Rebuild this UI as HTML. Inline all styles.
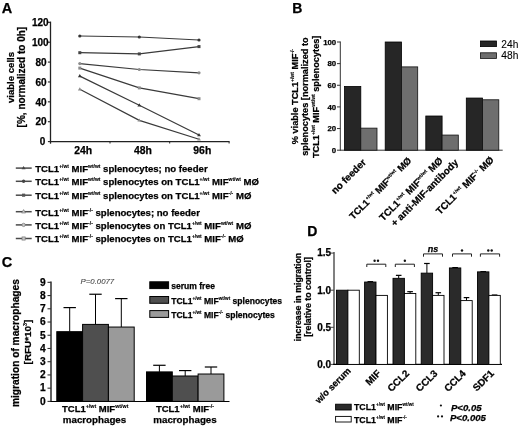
<!DOCTYPE html>
<html><head><meta charset="utf-8"><style>
html,body{margin:0;padding:0;background:#fff;}
svg{display:block;will-change:transform;}
text{font-family:"Liberation Sans",sans-serif;}
</style></head><body>
<svg width="520" height="426" viewBox="0 0 520 426">
<rect width="520" height="426" fill="#fff"/>
<text x="1.8" y="12.6" font-size="14.5" font-weight="bold" text-anchor="start" fill="#000" stroke="#000" stroke-width="0.25">A</text>
<line x1="50.5" y1="21.6" x2="50.5" y2="143.7" stroke="#222" stroke-width="1.3"/>
<line x1="47.9" y1="141.6" x2="50.5" y2="141.6" stroke="#222" stroke-width="1.1"/>
<text x="45.3" y="145.29999999999998" font-size="10" font-weight="bold" text-anchor="end" fill="#000" stroke="#000" stroke-width="0.25">0</text>
<line x1="47.9" y1="121.72" x2="50.5" y2="121.72" stroke="#222" stroke-width="1.1"/>
<text x="46.5" y="125.42" font-size="10" font-weight="bold" text-anchor="end" fill="#000" stroke="#000" stroke-width="0.25">20</text>
<line x1="47.9" y1="101.84" x2="50.5" y2="101.84" stroke="#222" stroke-width="1.1"/>
<text x="46.5" y="105.54" font-size="10" font-weight="bold" text-anchor="end" fill="#000" stroke="#000" stroke-width="0.25">40</text>
<line x1="47.9" y1="81.96" x2="50.5" y2="81.96" stroke="#222" stroke-width="1.1"/>
<text x="46.5" y="85.66" font-size="10" font-weight="bold" text-anchor="end" fill="#000" stroke="#000" stroke-width="0.25">60</text>
<line x1="47.9" y1="62.08" x2="50.5" y2="62.08" stroke="#222" stroke-width="1.1"/>
<text x="46.5" y="65.78" font-size="10" font-weight="bold" text-anchor="end" fill="#000" stroke="#000" stroke-width="0.25">80</text>
<line x1="47.9" y1="42.19999999999999" x2="50.5" y2="42.19999999999999" stroke="#222" stroke-width="1.1"/>
<text x="48.7" y="45.89999999999999" font-size="10" font-weight="bold" text-anchor="end" fill="#000" stroke="#000" stroke-width="0.25">100</text>
<line x1="47.9" y1="22.319999999999993" x2="50.5" y2="22.319999999999993" stroke="#222" stroke-width="1.1"/>
<text x="48.7" y="26.019999999999992" font-size="10" font-weight="bold" text-anchor="end" fill="#000" stroke="#000" stroke-width="0.25">120</text>
<line x1="50" y1="141.6" x2="229.6" y2="141.6" stroke="#222" stroke-width="1.3"/>
<line x1="110" y1="141.6" x2="110" y2="143.5" stroke="#222" stroke-width="1"/>
<line x1="169.7" y1="141.6" x2="169.7" y2="143.5" stroke="#222" stroke-width="1"/>
<line x1="229.1" y1="141.6" x2="229.1" y2="143.5" stroke="#222" stroke-width="1"/>
<text x="83.2" y="154.3" font-size="10.4" font-weight="bold" text-anchor="middle" fill="#000" stroke="#000" stroke-width="0.25">24h</text>
<text x="143" y="154.3" font-size="10.4" font-weight="bold" text-anchor="middle" fill="#000" stroke="#000" stroke-width="0.25">48h</text>
<text x="202.3" y="154.3" font-size="10.4" font-weight="bold" text-anchor="middle" fill="#000" stroke="#000" stroke-width="0.25">96h</text>
<text x="14.2" y="77.5" font-size="9.6" font-weight="bold" text-anchor="middle" fill="#000" stroke="#000" stroke-width="0.25" transform="rotate(-90 14.2 77.5)">viable cells</text>
<text x="24.9" y="77.1" font-size="10" font-weight="bold" text-anchor="middle" fill="#000" stroke="#000" stroke-width="0.25" transform="rotate(-90 24.9 77.1)">[%, normalized to 0h]</text>
<polyline points="79.8,36 139.3,37 199,40" fill="none" stroke="#3a3a3a" stroke-width="1.2"/>
<circle cx="79.8" cy="36" r="1.6" fill="#333"/>
<circle cx="139.3" cy="37" r="1.6" fill="#333"/>
<circle cx="199" cy="40" r="1.6" fill="#333"/>
<polyline points="79.8,52.7 139.3,53.9 199,46.6" fill="none" stroke="#3a3a3a" stroke-width="1.2"/>
<rect x="78.3" y="51.2" width="3.0" height="3.0" fill="#444"/>
<rect x="137.8" y="52.4" width="3.0" height="3.0" fill="#444"/>
<rect x="197.5" y="45.1" width="3.0" height="3.0" fill="#444"/>
<polyline points="79.8,63.6 139.3,69.5 199,72.8" fill="none" stroke="#3a3a3a" stroke-width="1.2"/>
<circle cx="79.8" cy="63.6" r="1.6" fill="#8c8c8c"/>
<circle cx="139.3" cy="69.5" r="1.6" fill="#8c8c8c"/>
<circle cx="199" cy="72.8" r="1.6" fill="#8c8c8c"/>
<polyline points="79.8,68.1 139.3,87.9 199,98.7" fill="none" stroke="#3a3a3a" stroke-width="1.2"/>
<rect x="78.3" y="66.6" width="3.0" height="3.0" fill="#8c8c8c"/>
<rect x="137.8" y="86.4" width="3.0" height="3.0" fill="#8c8c8c"/>
<rect x="197.5" y="97.2" width="3.0" height="3.0" fill="#8c8c8c"/>
<polyline points="79.8,76.1 139.3,105.2 199,135" fill="none" stroke="#3a3a3a" stroke-width="1.2"/>
<path d="M77.89999999999999,77.3 L81.7,77.3 L79.8,74.1 Z" fill="#333"/>
<path d="M137.4,106.4 L141.20000000000002,106.4 L139.3,103.2 Z" fill="#333"/>
<path d="M197.1,136.2 L200.9,136.2 L199,133.0 Z" fill="#333"/>
<polyline points="79.8,89.2 139.3,120.4 199,139.2" fill="none" stroke="#3a3a3a" stroke-width="1.2"/>
<path d="M77.89999999999999,90.4 L81.7,90.4 L79.8,87.2 Z" fill="#8c8c8c"/>
<path d="M137.4,121.60000000000001 L141.20000000000002,121.60000000000001 L139.3,118.4 Z" fill="#8c8c8c"/>
<path d="M197.1,140.39999999999998 L200.9,140.39999999999998 L199,137.2 Z" fill="#8c8c8c"/>
<line x1="15.8" y1="168.1" x2="31.7" y2="168.1" stroke="#4a4a4a" stroke-width="1.5"/>
<path d="M21.605,169.35999999999999 L25.595000000000002,169.35999999999999 L23.6,166.0 Z" fill="#444"/>
<text x="35.2" y="171.9" font-size="9.6" font-weight="bold" text-anchor="start" fill="#000" stroke="#000" stroke-width="0.25">TCL1<tspan font-size="4.95" stroke-width="0.12" dy="-4.0">+/wt</tspan><tspan dy="4.0"> MIF</tspan><tspan font-size="4.95" stroke-width="0.12" dy="-4.0">wt/wt</tspan><tspan dy="4.0"> splenocytes; no feeder</tspan></text>
<line x1="15.8" y1="181.3" x2="31.7" y2="181.3" stroke="#4a4a4a" stroke-width="1.5"/>
<circle cx="23.6" cy="181.3" r="1.6800000000000002" fill="#444"/>
<text x="35.2" y="185.10000000000002" font-size="9.6" font-weight="bold" text-anchor="start" fill="#000" stroke="#000" stroke-width="0.25">TCL1<tspan font-size="4.95" stroke-width="0.12" dy="-4.0">+/wt</tspan><tspan dy="4.0"> MIF</tspan><tspan font-size="4.95" stroke-width="0.12" dy="-4.0">wt/wt</tspan><tspan dy="4.0"> splenocytes on TCL1</tspan><tspan font-size="4.95" stroke-width="0.12" dy="-4.0">+/wt</tspan><tspan dy="4.0"> MIF</tspan><tspan font-size="4.95" stroke-width="0.12" dy="-4.0">wt/wt</tspan><tspan dy="4.0"> MØ</tspan></text>
<line x1="15.8" y1="195.2" x2="31.7" y2="195.2" stroke="#4a4a4a" stroke-width="1.5"/>
<rect x="22.025000000000002" y="193.625" width="3.1500000000000004" height="3.1500000000000004" fill="#555"/>
<text x="35.2" y="199.0" font-size="9.6" font-weight="bold" text-anchor="start" fill="#000" stroke="#000" stroke-width="0.25">TCL1<tspan font-size="4.95" stroke-width="0.12" dy="-4.0">+/wt</tspan><tspan dy="4.0"> MIF</tspan><tspan font-size="4.95" stroke-width="0.12" dy="-4.0">wt/wt</tspan><tspan dy="4.0"> splenocytes on TCL1</tspan><tspan font-size="4.95" stroke-width="0.12" dy="-4.0">+/wt</tspan><tspan dy="4.0"> MIF</tspan><tspan font-size="4.95" stroke-width="0.12" dy="-4.0">-/-</tspan><tspan dy="4.0"> MØ</tspan></text>
<line x1="15.8" y1="211.7" x2="31.7" y2="211.7" stroke="#4a4a4a" stroke-width="1.5"/>
<path d="M21.605,212.95999999999998 L25.595000000000002,212.95999999999998 L23.6,209.6 Z" fill="#c8c8c8" stroke="#777" stroke-width="0.7"/>
<text x="35.2" y="215.5" font-size="9.6" font-weight="bold" text-anchor="start" fill="#000" stroke="#000" stroke-width="0.25">TCL1<tspan font-size="4.95" stroke-width="0.12" dy="-4.0">+/wt</tspan><tspan dy="4.0"> MIF</tspan><tspan font-size="4.95" stroke-width="0.12" dy="-4.0">-/-</tspan><tspan dy="4.0"> splenocytes; no feeder</tspan></text>
<line x1="15.8" y1="224.9" x2="31.7" y2="224.9" stroke="#4a4a4a" stroke-width="1.5"/>
<circle cx="23.6" cy="224.9" r="1.6800000000000002" fill="#c8c8c8" stroke="#777" stroke-width="0.7"/>
<text x="35.2" y="228.70000000000002" font-size="9.6" font-weight="bold" text-anchor="start" fill="#000" stroke="#000" stroke-width="0.25">TCL1<tspan font-size="4.95" stroke-width="0.12" dy="-4.0">+/wt</tspan><tspan dy="4.0"> MIF</tspan><tspan font-size="4.95" stroke-width="0.12" dy="-4.0">-/-</tspan><tspan dy="4.0"> splenocytes on TCL1</tspan><tspan font-size="4.95" stroke-width="0.12" dy="-4.0">+/wt</tspan><tspan dy="4.0"> MIF</tspan><tspan font-size="4.95" stroke-width="0.12" dy="-4.0">wt/wt</tspan><tspan dy="4.0"> MØ</tspan></text>
<line x1="15.8" y1="238.5" x2="31.7" y2="238.5" stroke="#4a4a4a" stroke-width="1.5"/>
<rect x="22.025000000000002" y="236.925" width="3.1500000000000004" height="3.1500000000000004" fill="#c8c8c8" stroke="#777" stroke-width="0.7"/>
<text x="35.2" y="242.3" font-size="9.6" font-weight="bold" text-anchor="start" fill="#000" stroke="#000" stroke-width="0.25">TCL1<tspan font-size="4.95" stroke-width="0.12" dy="-4.0">+/wt</tspan><tspan dy="4.0"> MIF</tspan><tspan font-size="4.95" stroke-width="0.12" dy="-4.0">-/-</tspan><tspan dy="4.0"> splenocytes on TCL1</tspan><tspan font-size="4.95" stroke-width="0.12" dy="-4.0">+/wt</tspan><tspan dy="4.0"> MIF</tspan><tspan font-size="4.95" stroke-width="0.12" dy="-4.0">-/-</tspan><tspan dy="4.0"> MØ</tspan></text>
<text x="292.2" y="12.5" font-size="14" font-weight="bold" text-anchor="start" fill="#000" stroke="#000" stroke-width="0.25">B</text>
<line x1="340.3" y1="41.5" x2="340.3" y2="150.6" stroke="#333" stroke-width="1"/>
<line x1="337" y1="150.2" x2="340.3" y2="150.2" stroke="#333" stroke-width="1"/>
<text x="336.2" y="153.0" font-size="7.8" font-weight="bold" text-anchor="end" fill="#000" stroke="#000" stroke-width="0.25">0</text>
<line x1="337" y1="128.56" x2="340.3" y2="128.56" stroke="#333" stroke-width="1"/>
<text x="336.2" y="131.36" font-size="7.8" font-weight="bold" text-anchor="end" fill="#000" stroke="#000" stroke-width="0.25">20</text>
<line x1="337" y1="106.91999999999999" x2="340.3" y2="106.91999999999999" stroke="#333" stroke-width="1"/>
<text x="336.2" y="109.71999999999998" font-size="7.8" font-weight="bold" text-anchor="end" fill="#000" stroke="#000" stroke-width="0.25">40</text>
<line x1="337" y1="85.27999999999999" x2="340.3" y2="85.27999999999999" stroke="#333" stroke-width="1"/>
<text x="336.2" y="88.07999999999998" font-size="7.8" font-weight="bold" text-anchor="end" fill="#000" stroke="#000" stroke-width="0.25">60</text>
<line x1="337" y1="63.639999999999986" x2="340.3" y2="63.639999999999986" stroke="#333" stroke-width="1"/>
<text x="336.2" y="66.43999999999998" font-size="7.8" font-weight="bold" text-anchor="end" fill="#000" stroke="#000" stroke-width="0.25">80</text>
<line x1="337" y1="41.999999999999986" x2="340.3" y2="41.999999999999986" stroke="#333" stroke-width="1"/>
<text x="336.2" y="44.79999999999998" font-size="7.8" font-weight="bold" text-anchor="end" fill="#000" stroke="#000" stroke-width="0.25">100</text>
<line x1="340" y1="150.2" x2="502.7" y2="150.2" stroke="#333" stroke-width="1"/>
<rect x="344.5" y="86.47019999999998" width="16.3" height="63.72980000000001" fill="#262626" stroke="#000" stroke-width="0.8"/>
<rect x="360.8" y="128.1272" width="16.2" height="22.0728" fill="#6e6e6e" stroke="#111" stroke-width="0.8"/>
<rect x="385.2" y="41.999999999999986" width="16.3" height="108.2" fill="#262626" stroke="#000" stroke-width="0.8"/>
<rect x="401.5" y="66.88599999999998" width="16.2" height="83.31400000000001" fill="#6e6e6e" stroke="#111" stroke-width="0.8"/>
<rect x="425.8" y="116.00879999999998" width="16.3" height="34.19120000000001" fill="#262626" stroke="#000" stroke-width="0.8"/>
<rect x="442.1" y="135.052" width="16.2" height="15.147999999999996" fill="#6e6e6e" stroke="#111" stroke-width="0.8"/>
<rect x="466.3" y="98.04759999999999" width="16.3" height="52.1524" fill="#262626" stroke="#000" stroke-width="0.8"/>
<rect x="482.6" y="99.77879999999999" width="16.2" height="50.4212" fill="#6e6e6e" stroke="#111" stroke-width="0.8"/>
<rect x="480.5" y="41" width="16" height="5.6" fill="#262626" stroke="#000" stroke-width="0.8"/>
<rect x="480.5" y="52.8" width="16" height="5.6" fill="#6e6e6e" stroke="#111" stroke-width="0.8"/>
<text x="501.3" y="47.6" font-size="10.2" font-weight="normal" text-anchor="start" fill="#000" stroke="#000" stroke-width="0.08">24h</text>
<text x="501.3" y="59.2" font-size="10.2" font-weight="normal" text-anchor="start" fill="#000" stroke="#000" stroke-width="0.08">48h</text>
<text x="297.8" y="96.6" font-size="9.2" font-weight="bold" text-anchor="middle" fill="#000" stroke="#000" stroke-width="0.25" transform="rotate(-90 297.8 96.6)">% viable TCL1<tspan font-size="5" stroke-width="0.12" dy="-3.8">+/wt</tspan><tspan dy="3.8"> MIF</tspan><tspan font-size="5" stroke-width="0.12" dy="-3.8">-/-</tspan></text>
<text x="308.2" y="96.6" font-size="9.2" font-weight="bold" text-anchor="middle" fill="#000" stroke="#000" stroke-width="0.25" transform="rotate(-90 308.2 96.6)">splenocytes [normalized to</text>
<text x="318.7" y="96.8" font-size="9.2" font-weight="bold" text-anchor="middle" fill="#000" stroke="#000" stroke-width="0.25" transform="rotate(-90 318.7 96.8)">TCL1<tspan font-size="5" stroke-width="0.12" dy="-3.8">+/wt</tspan><tspan dy="3.8"> MIF</tspan><tspan font-size="5" stroke-width="0.12" dy="-3.8">wt/wt</tspan><tspan dy="3.8"> splenocytes]</tspan></text>
<text x="366.7" y="163" font-size="9.9" font-weight="bold" text-anchor="end" fill="#000" stroke="#000" stroke-width="0.25" transform="rotate(-45 366.7 163)">no feeder</text>
<text x="412" y="161.2" font-size="9.5" font-weight="bold" text-anchor="end" fill="#000" stroke="#000" stroke-width="0.25" transform="rotate(-45 412 161.2)">TCL1<tspan font-size="5" stroke-width="0.12" dy="-4">+/wt</tspan><tspan dy="4"> MIF</tspan><tspan font-size="5" stroke-width="0.12" dy="-4">wt/wt</tspan><tspan dy="4"> MØ</tspan></text>
<text x="443.3" y="161.3" font-size="9.8" font-weight="bold" text-anchor="end" fill="#000" stroke="#000" stroke-width="0.25" transform="rotate(-45 443.3 161.3)">TCL1<tspan font-size="5" stroke-width="0.12" dy="-4">+/wt</tspan><tspan dy="4"> MIF</tspan><tspan font-size="5" stroke-width="0.12" dy="-4">wt/wt</tspan><tspan dy="4"> MØ</tspan></text>
<text x="458.8" y="163.2" font-size="9.8" font-weight="bold" text-anchor="end" fill="#000" stroke="#000" stroke-width="0.25" transform="rotate(-45 458.8 163.2)">+ anti-MIF-antibody</text>
<text x="494.5" y="160.5" font-size="9.8" font-weight="bold" text-anchor="end" fill="#000" stroke="#000" stroke-width="0.25" transform="rotate(-45 494.5 160.5)">TCL1<tspan font-size="5" stroke-width="0.12" dy="-4">+/wt</tspan><tspan dy="4"> MIF</tspan><tspan font-size="5" stroke-width="0.12" dy="-4">-/-</tspan><tspan dy="4"> MØ</tspan></text>
<text x="1.8" y="267.2" font-size="14.5" font-weight="bold" text-anchor="start" fill="#000" stroke="#000" stroke-width="0.25">C</text>
<line x1="51" y1="281.6" x2="51" y2="402" stroke="#3a3a3a" stroke-width="1.6"/>
<line x1="47.5" y1="401.4" x2="51" y2="401.4" stroke="#333" stroke-width="1.1"/>
<text x="45.6" y="404.7" font-size="10.2" font-weight="bold" text-anchor="end" fill="#000" stroke="#000" stroke-width="0.25">0</text>
<line x1="47.5" y1="388.16999999999996" x2="51" y2="388.16999999999996" stroke="#333" stroke-width="1.1"/>
<text x="45.6" y="391.46999999999997" font-size="10.2" font-weight="bold" text-anchor="end" fill="#000" stroke="#000" stroke-width="0.25">1</text>
<line x1="47.5" y1="374.94" x2="51" y2="374.94" stroke="#333" stroke-width="1.1"/>
<text x="45.6" y="378.24" font-size="10.2" font-weight="bold" text-anchor="end" fill="#000" stroke="#000" stroke-width="0.25">2</text>
<line x1="47.5" y1="361.71" x2="51" y2="361.71" stroke="#333" stroke-width="1.1"/>
<text x="45.6" y="365.01" font-size="10.2" font-weight="bold" text-anchor="end" fill="#000" stroke="#000" stroke-width="0.25">3</text>
<line x1="47.5" y1="348.47999999999996" x2="51" y2="348.47999999999996" stroke="#333" stroke-width="1.1"/>
<text x="45.6" y="351.78" font-size="10.2" font-weight="bold" text-anchor="end" fill="#000" stroke="#000" stroke-width="0.25">4</text>
<line x1="47.5" y1="335.25" x2="51" y2="335.25" stroke="#333" stroke-width="1.1"/>
<text x="45.6" y="338.55" font-size="10.2" font-weight="bold" text-anchor="end" fill="#000" stroke="#000" stroke-width="0.25">5</text>
<line x1="47.5" y1="322.02" x2="51" y2="322.02" stroke="#333" stroke-width="1.1"/>
<text x="45.6" y="325.32" font-size="10.2" font-weight="bold" text-anchor="end" fill="#000" stroke="#000" stroke-width="0.25">6</text>
<line x1="47.5" y1="308.78999999999996" x2="51" y2="308.78999999999996" stroke="#333" stroke-width="1.1"/>
<text x="45.6" y="312.09" font-size="10.2" font-weight="bold" text-anchor="end" fill="#000" stroke="#000" stroke-width="0.25">7</text>
<line x1="47.5" y1="295.55999999999995" x2="51" y2="295.55999999999995" stroke="#333" stroke-width="1.1"/>
<text x="45.6" y="298.85999999999996" font-size="10.2" font-weight="bold" text-anchor="end" fill="#000" stroke="#000" stroke-width="0.25">8</text>
<line x1="47.5" y1="282.33" x2="51" y2="282.33" stroke="#333" stroke-width="1.1"/>
<text x="45.6" y="285.63" font-size="10.2" font-weight="bold" text-anchor="end" fill="#000" stroke="#000" stroke-width="0.25">9</text>
<line x1="50.5" y1="401.5" x2="229.5" y2="401.5" stroke="#000" stroke-width="1.2"/>
<line x1="69.7" y1="307.59929999999997" x2="69.7" y2="331.67789999999997" stroke="#000" stroke-width="1"/>
<line x1="63.5" y1="307.59929999999997" x2="75.9" y2="307.59929999999997" stroke="#000" stroke-width="1.2"/>
<rect x="56.8" y="331.67789999999997" width="25.8" height="69.72210000000001" fill="#000" stroke="#000" stroke-width="1"/>
<line x1="95.5" y1="294.23699999999997" x2="95.5" y2="324.40139999999997" stroke="#000" stroke-width="1"/>
<line x1="89.3" y1="294.23699999999997" x2="101.7" y2="294.23699999999997" stroke="#000" stroke-width="1.2"/>
<rect x="82.6" y="324.40139999999997" width="25.8" height="76.99860000000001" fill="#4f4f4f" stroke="#000" stroke-width="1"/>
<line x1="121.30000000000001" y1="298.6029" x2="121.30000000000001" y2="327.0474" stroke="#000" stroke-width="1"/>
<line x1="115.10000000000001" y1="298.6029" x2="127.50000000000001" y2="298.6029" stroke="#000" stroke-width="1.2"/>
<rect x="108.4" y="327.0474" width="25.8" height="74.3526" fill="#9a9a9a" stroke="#000" stroke-width="1"/>
<line x1="159.4" y1="365.28209999999996" x2="159.4" y2="371.89709999999997" stroke="#000" stroke-width="1"/>
<line x1="153.20000000000002" y1="365.28209999999996" x2="165.6" y2="365.28209999999996" stroke="#000" stroke-width="1.2"/>
<rect x="146.5" y="371.89709999999997" width="25.8" height="29.50290000000001" fill="#000" stroke="#000" stroke-width="1"/>
<line x1="185.20000000000002" y1="370.5741" x2="185.20000000000002" y2="375.9984" stroke="#000" stroke-width="1"/>
<line x1="179.00000000000003" y1="370.5741" x2="191.4" y2="370.5741" stroke="#000" stroke-width="1.2"/>
<rect x="172.3" y="375.9984" width="25.8" height="25.401599999999974" fill="#4f4f4f" stroke="#000" stroke-width="1"/>
<line x1="211.0" y1="367.00199999999995" x2="211.0" y2="374.0139" stroke="#000" stroke-width="1"/>
<line x1="204.8" y1="367.00199999999995" x2="217.2" y2="367.00199999999995" stroke="#000" stroke-width="1.2"/>
<rect x="198.1" y="374.0139" width="25.8" height="27.3861" fill="#9a9a9a" stroke="#000" stroke-width="1"/>
<text x="97.4" y="283.7" font-size="7.8" font-weight="normal" text-anchor="middle" fill="#444" stroke="#444" stroke-width="0.08" font-style="italic">P=0.0077</text>
<rect x="149.8" y="281.8" width="18.8" height="6.8" fill="#000" stroke="#000" stroke-width="1"/>
<text x="171.2" y="288.8" font-size="8.55" font-weight="bold" text-anchor="start" fill="#000" stroke="#000" stroke-width="0.25">serum free</text>
<rect x="149.8" y="296.5" width="18.8" height="6.8" fill="#4f4f4f" stroke="#000" stroke-width="1"/>
<text x="171.2" y="303.5" font-size="8.55" font-weight="bold" text-anchor="start" fill="#000" stroke="#000" stroke-width="0.25">TCL1<tspan font-size="4.6" stroke-width="0.12" dy="-3.6">+/wt</tspan><tspan dy="3.6"> MIF</tspan><tspan font-size="4.6" stroke-width="0.12" dy="-3.6">wt/wt</tspan><tspan dy="3.6"> splenocytes</tspan></text>
<rect x="149.8" y="310.6" width="18.8" height="6.8" fill="#9a9a9a" stroke="#000" stroke-width="1"/>
<text x="171.2" y="317.6" font-size="8.55" font-weight="bold" text-anchor="start" fill="#000" stroke="#000" stroke-width="0.25">TCL1<tspan font-size="4.6" stroke-width="0.12" dy="-3.6">+/wt</tspan><tspan dy="3.6"> MIF</tspan><tspan font-size="4.6" stroke-width="0.12" dy="-3.6">-/-</tspan><tspan dy="3.6"> splenocytes</tspan></text>
<text x="18.9" y="343.1" font-size="10.2" font-weight="bold" text-anchor="middle" fill="#000" stroke="#000" stroke-width="0.25" transform="rotate(-90 18.9 343.1)">migration of macrophages</text>
<text x="30.6" y="342" font-size="9.9" font-weight="bold" text-anchor="middle" fill="#000" stroke="#000" stroke-width="0.25" transform="rotate(-90 30.6 342)">[RFU*10<tspan font-size="5.5" stroke-width="0.12" dy="-4">3</tspan><tspan dy="4">]</tspan></text>
<text x="95.2" y="412.3" font-size="9.5" font-weight="bold" text-anchor="middle" fill="#000" stroke="#000" stroke-width="0.25">TCL1<tspan font-size="5.3" stroke-width="0.12" dy="-4">+/wt</tspan><tspan dy="4"> MIF</tspan><tspan font-size="5.3" stroke-width="0.12" dy="-4">wt/wt</tspan></text>
<text x="94.5" y="422.6" font-size="9.75" font-weight="bold" text-anchor="middle" fill="#000" stroke="#000" stroke-width="0.25">macrophages</text>
<text x="185" y="412.3" font-size="9.5" font-weight="bold" text-anchor="middle" fill="#000" stroke="#000" stroke-width="0.25">TCL1<tspan font-size="5.3" stroke-width="0.12" dy="-4">+/wt</tspan><tspan dy="4"> MIF</tspan><tspan font-size="5.3" stroke-width="0.12" dy="-4">-/-</tspan></text>
<text x="185" y="422.6" font-size="9.75" font-weight="bold" text-anchor="middle" fill="#000" stroke="#000" stroke-width="0.25">macrophages</text>
<text x="307.2" y="235.9" font-size="14" font-weight="bold" text-anchor="start" fill="#000" stroke="#000" stroke-width="0.25">D</text>
<line x1="334" y1="252" x2="334" y2="364.8" stroke="#6a6a6a" stroke-width="1.7"/>
<line x1="330.5" y1="364.4" x2="334" y2="364.4" stroke="#444" stroke-width="1"/>
<text x="331.1" y="367.7" font-size="10" font-weight="bold" text-anchor="end" fill="#000" stroke="#000" stroke-width="0.25">0.0</text>
<line x1="330.5" y1="327.29999999999995" x2="334" y2="327.29999999999995" stroke="#444" stroke-width="1"/>
<text x="331.1" y="330.59999999999997" font-size="10" font-weight="bold" text-anchor="end" fill="#000" stroke="#000" stroke-width="0.25">0.5</text>
<line x1="330.5" y1="290.2" x2="334" y2="290.2" stroke="#444" stroke-width="1"/>
<text x="331.1" y="293.5" font-size="10" font-weight="bold" text-anchor="end" fill="#000" stroke="#000" stroke-width="0.25">1.0</text>
<line x1="330.5" y1="253.09999999999997" x2="334" y2="253.09999999999997" stroke="#444" stroke-width="1"/>
<text x="331.1" y="256.4" font-size="10" font-weight="bold" text-anchor="end" fill="#000" stroke="#000" stroke-width="0.25">1.5</text>
<line x1="333.2" y1="364.4" x2="502" y2="364.4" stroke="#000" stroke-width="1.2"/>
<rect x="336.5" y="290.2" width="11.4" height="74.19999999999999" fill="#2a2a2a" stroke="#000" stroke-width="0.9"/>
<rect x="347.9" y="290.2" width="11.4" height="74.19999999999999" fill="#fff" stroke="#000" stroke-width="0.9"/>
<line x1="370.3" y1="281.667" x2="370.3" y2="282.03799999999995" stroke="#000" stroke-width="1"/>
<line x1="367.5" y1="281.667" x2="373.1" y2="281.667" stroke="#000" stroke-width="1.2"/>
<rect x="364.6" y="282.03799999999995" width="11.4" height="82.36200000000002" fill="#2a2a2a" stroke="#000" stroke-width="0.9"/>
<rect x="376.0" y="295.394" width="11.4" height="69.00599999999997" fill="#fff" stroke="#000" stroke-width="0.9"/>
<line x1="398.7" y1="275.35999999999996" x2="398.7" y2="278.328" stroke="#000" stroke-width="1"/>
<line x1="395.9" y1="275.35999999999996" x2="401.5" y2="275.35999999999996" stroke="#000" stroke-width="1.2"/>
<line x1="410.1" y1="291.68399999999997" x2="410.1" y2="293.539" stroke="#000" stroke-width="1"/>
<line x1="407.3" y1="291.68399999999997" x2="412.90000000000003" y2="291.68399999999997" stroke="#000" stroke-width="1.2"/>
<rect x="393.0" y="278.328" width="11.4" height="86.072" fill="#2a2a2a" stroke="#000" stroke-width="0.9"/>
<rect x="404.4" y="293.539" width="11.4" height="70.86099999999999" fill="#fff" stroke="#000" stroke-width="0.9"/>
<line x1="426.9" y1="263.48799999999994" x2="426.9" y2="273.13399999999996" stroke="#000" stroke-width="1"/>
<line x1="424.09999999999997" y1="263.48799999999994" x2="429.7" y2="263.48799999999994" stroke="#000" stroke-width="1.2"/>
<line x1="438.3" y1="292.7228" x2="438.3" y2="295.394" stroke="#000" stroke-width="1"/>
<line x1="435.5" y1="292.7228" x2="441.1" y2="292.7228" stroke="#000" stroke-width="1.2"/>
<rect x="421.2" y="273.13399999999996" width="11.4" height="91.26600000000002" fill="#2a2a2a" stroke="#000" stroke-width="0.9"/>
<rect x="432.59999999999997" y="295.394" width="11.4" height="69.00599999999997" fill="#fff" stroke="#000" stroke-width="0.9"/>
<line x1="455.09999999999997" y1="267.56899999999996" x2="455.09999999999997" y2="267.93999999999994" stroke="#000" stroke-width="1"/>
<line x1="452.29999999999995" y1="267.56899999999996" x2="457.9" y2="267.56899999999996" stroke="#000" stroke-width="1.2"/>
<line x1="466.5" y1="297.62" x2="466.5" y2="300.58799999999997" stroke="#000" stroke-width="1"/>
<line x1="463.7" y1="297.62" x2="469.3" y2="297.62" stroke="#000" stroke-width="1.2"/>
<rect x="449.4" y="267.93999999999994" width="11.4" height="96.46000000000004" fill="#2a2a2a" stroke="#000" stroke-width="0.9"/>
<rect x="460.79999999999995" y="300.58799999999997" width="11.4" height="63.81200000000001" fill="#fff" stroke="#000" stroke-width="0.9"/>
<line x1="483.2" y1="271.65" x2="483.2" y2="271.8726" stroke="#000" stroke-width="1"/>
<line x1="480.4" y1="271.65" x2="486.0" y2="271.65" stroke="#000" stroke-width="1.2"/>
<line x1="494.6" y1="295.02299999999997" x2="494.6" y2="295.394" stroke="#000" stroke-width="1"/>
<line x1="491.8" y1="295.02299999999997" x2="497.40000000000003" y2="295.02299999999997" stroke="#000" stroke-width="1.2"/>
<rect x="477.5" y="271.8726" width="11.4" height="92.5274" fill="#2a2a2a" stroke="#000" stroke-width="0.9"/>
<rect x="488.9" y="295.394" width="11.4" height="69.00599999999997" fill="#fff" stroke="#000" stroke-width="0.9"/>
<path d="M366.8,267.0 L366.8,264.2 L385.8,264.2 L385.8,267.0" fill="none" stroke="#222" stroke-width="1"/>
<circle cx="374.6" cy="260.8" r="1.2" fill="#111"/>
<circle cx="378.0" cy="260.8" r="1.2" fill="#111"/>
<path d="M395.3,267.0 L395.3,264.2 L414.4,264.2 L414.4,267.0" fill="none" stroke="#222" stroke-width="1"/>
<circle cx="404.85" cy="260.8" r="1.2" fill="#111"/>
<path d="M423.5,256.7 L423.5,253.9 L442.5,253.9 L442.5,256.7" fill="none" stroke="#222" stroke-width="1"/>
<text x="433.0" y="251.5" font-size="9" font-weight="bold" text-anchor="middle" fill="#000" stroke="#000" stroke-width="0.25" font-style="italic">ns</text>
<path d="M452.5,256.7 L452.5,253.9 L471.5,253.9 L471.5,256.7" fill="none" stroke="#222" stroke-width="1"/>
<circle cx="462.0" cy="250.5" r="1.2" fill="#111"/>
<path d="M480.4,256.7 L480.4,253.9 L499.6,253.9 L499.6,256.7" fill="none" stroke="#222" stroke-width="1"/>
<circle cx="488.3" cy="250.5" r="1.2" fill="#111"/>
<circle cx="491.7" cy="250.5" r="1.2" fill="#111"/>
<text x="301" y="297" font-size="8.8" font-weight="bold" text-anchor="middle" fill="#000" stroke="#000" stroke-width="0.25" transform="rotate(-90 301 297)">increase in migration</text>
<text x="311" y="297" font-size="8.8" font-weight="bold" text-anchor="middle" fill="#000" stroke="#000" stroke-width="0.25" transform="rotate(-90 311 297)">[relative to control]</text>
<text x="351.4" y="371.5" font-size="9.3" font-weight="bold" text-anchor="end" fill="#000" stroke="#000" stroke-width="0.25" transform="rotate(-45 351.4 371.5)">w/o serum</text>
<text x="381.5" y="374" font-size="9.9" font-weight="bold" text-anchor="end" fill="#000" stroke="#000" stroke-width="0.25" transform="rotate(-45 381.5 374)">MIF</text>
<text x="409.8" y="374" font-size="9.9" font-weight="bold" text-anchor="end" fill="#000" stroke="#000" stroke-width="0.25" transform="rotate(-45 409.8 374)">CCL2</text>
<text x="438.09999999999997" y="374" font-size="9.9" font-weight="bold" text-anchor="end" fill="#000" stroke="#000" stroke-width="0.25" transform="rotate(-45 438.09999999999997 374)">CCL3</text>
<text x="466.4" y="374" font-size="9.9" font-weight="bold" text-anchor="end" fill="#000" stroke="#000" stroke-width="0.25" transform="rotate(-45 466.4 374)">CCL4</text>
<text x="494.7" y="374" font-size="9.9" font-weight="bold" text-anchor="end" fill="#000" stroke="#000" stroke-width="0.25" transform="rotate(-45 494.7 374)">SDF1</text>
<rect x="335.6" y="404.2" width="15.6" height="5.8" fill="#2a2a2a" stroke="#000" stroke-width="0.9"/>
<rect x="335.6" y="416.4" width="15.6" height="5.6" fill="#fff" stroke="#000" stroke-width="0.9"/>
<text x="354" y="410.4" font-size="8.8" font-weight="bold" text-anchor="start" fill="#000" stroke="#000" stroke-width="0.25">TCL1<tspan font-size="4.5" stroke-width="0.12" dy="-4">+/wt</tspan><tspan dy="4"> MIF</tspan><tspan font-size="4.5" stroke-width="0.12" dy="-4">wt/wt</tspan></text>
<text x="354" y="422.6" font-size="8.8" font-weight="bold" text-anchor="start" fill="#000" stroke="#000" stroke-width="0.25">TCL1<tspan font-size="4.5" stroke-width="0.12" dy="-4">+/wt</tspan><tspan dy="4"> MIF</tspan><tspan font-size="4.5" stroke-width="0.12" dy="-4">-/-</tspan></text>
<circle cx="440.9" cy="405.5" r="1.1" fill="#111"/>
<circle cx="438.1" cy="416.4" r="1.1" fill="#111"/><circle cx="442" cy="416.4" r="1.1" fill="#111"/>
<text x="450.9" y="410.6" font-size="9.6" font-weight="bold" text-anchor="start" fill="#000" stroke="#000" stroke-width="0.25" font-style="italic">P&lt;0.05</text>
<text x="449.9" y="421" font-size="9.6" font-weight="bold" text-anchor="start" fill="#000" stroke="#000" stroke-width="0.25" font-style="italic">P&lt;0.005</text>
</svg>
</body></html>
